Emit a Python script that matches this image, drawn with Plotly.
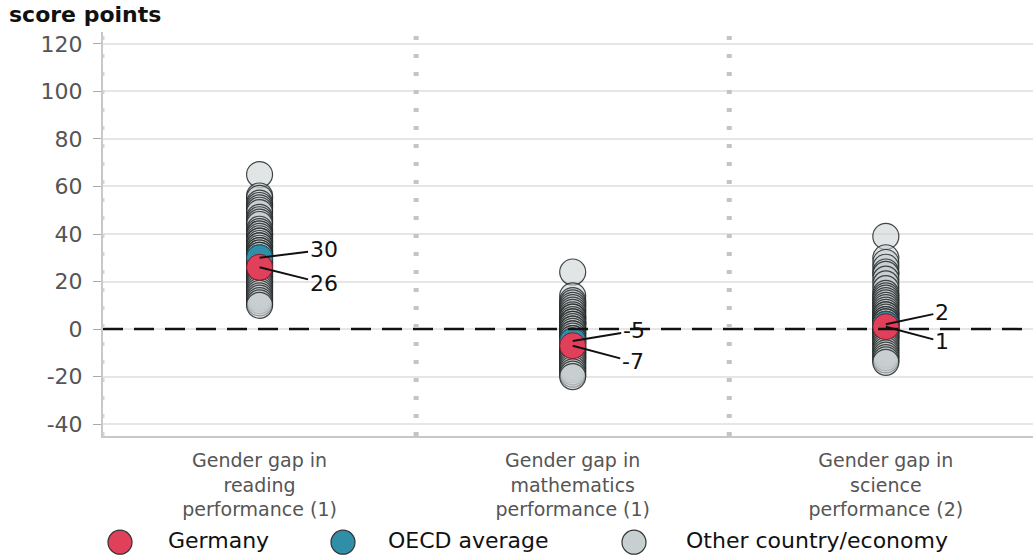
import plotly.graph_objects as go

# Gender gap (girls minus boys), score points
categories = ["Gender gap in<br>reading<br>performance (1)",
              "Gender gap in<br>mathematics<br>performance (1)",
              "Gender gap in<br>science<br>performance (2)"]

germany = [26, -7, 1]
oecd_average = [30, -5, 2]

other_reading = [65, 56, 55, 53, 52, 51, 50, 49, 47, 46, 45, 44, 42, 41, 40, 40,
                 39, 38, 37, 37, 36, 35, 35, 34, 33, 33, 32, 32, 31, 31, 30, 29,
                 29, 28, 28, 27, 27, 26, 25, 25, 24, 24, 23, 22, 22, 21, 20, 20,
                 19, 18, 17, 16, 15, 14, 13, 12, 11, 10]
other_math = [24, 14, 12, 11, 10, 9, 8, 7, 6, 5, 5, 4, 3, 3, 2, 2, 1, 0, 0, -1,
              -2, -2, -3, -4, -4, -5, -6, -6, -7, -8, -8, -9, -10, -10, -11, -12,
              -12, -13, -14, -15, -16, -17, -18, -19, -20]
other_science = [39, 30, 28, 26, 24, 23, 21, 19, 17, 15, 14, 13, 12, 11, 10, 9,
                 8, 7, 6, 6, 5, 4, 4, 3, 3, 2, 2, 1, 1, 0, 0, -1, -1, -2, -3, -3,
                 -4, -5, -6, -7, -8, -9, -10, -11, -12, -13, -14]

y_ticks = [-40, -20, 0, 20, 40, 60, 80, 100, 120]
legend_names = ["Germany", "OECD average", "Other country/economy"]

RED = "#e0405a"
TEAL = "#2f8fa8"
GREY_FILL = "rgba(200,207,209,0.55)"
FONT = "DejaVu Sans, Verdana, sans-serif"
MS = 26

others = [other_reading, other_math, other_science]
ox, oy = [], []
for i, vals in enumerate(others):
    ox += [i] * len(vals)
    oy += vals

fig = go.Figure()
fig.add_trace(go.Scatter(
    x=ox, y=oy, mode="markers", name=legend_names[2],
    marker=dict(size=MS, color=GREY_FILL,
                line=dict(color="rgba(35,40,40,0.85)", width=1.2)),
    hoverinfo="y"))
fig.add_trace(go.Scatter(
    x=[0, 1, 2], y=oecd_average, mode="markers", name=legend_names[1],
    marker=dict(size=MS, color=TEAL, line=dict(color="#1b4f5c", width=1))))
fig.add_trace(go.Scatter(
    x=[0, 1, 2], y=germany, mode="markers", name=legend_names[0],
    marker=dict(size=MS, color=RED, line=dict(color="#7a1f2c", width=1))))

# legend row drawn on its own hidden axes (x in pixels across the plot width)
legend_marker_x = [120, 343, 634]
legend_text_x = [168, 388, 686]
legend_colors = [RED, TEAL, "#c8cfd1"]
fig.add_trace(go.Scatter(
    x=legend_marker_x, y=[0, 0, 0], xaxis="x2", yaxis="y2", mode="markers",
    marker=dict(size=24, color=legend_colors,
                line=dict(color="#333", width=1.2)),
    hoverinfo="skip"))
fig.add_trace(go.Scatter(
    x=legend_text_x, y=[0, 0, 0], xaxis="x2", yaxis="y2", mode="text",
    text=legend_names, textposition="middle right",
    textfont=dict(size=22, color="#111", family=FONT), hoverinfo="skip"))

# value labels with leader lines
label_offsets_oecd = [(64, -8), (61, -10), (56, -12)]
label_offsets_de = [(64, 16), (60, 16), (56, 15)]
for i in range(3):
    for val, (ax, ay) in ((oecd_average[i], label_offsets_oecd[i]),
                          (germany[i], label_offsets_de[i])):
        fig.add_annotation(x=i, y=val, text=str(val), showarrow=True,
                           arrowhead=0, arrowwidth=2, arrowcolor="#111",
                           ax=ax, ay=ay, standoff=0,
                           font=dict(size=22, color="#111", family=FONT))

# zero line
fig.add_shape(type="line", xref="x domain", x0=0, x1=1, y0=0, y1=0,
              line=dict(color="#111", width=2.5, dash="20px,11px"))
# dotted separators between the panels
for xs, w, c in ((-0.5, 3, "#d6d6d6"), (0.5, 5, "#c4c4c4"), (1.5, 5, "#c4c4c4")):
    fig.add_shape(type="line", x0=xs, x1=xs, yref="y domain", y0=0, y1=1,
                  line=dict(color=c, width=w, dash="4px,14px"))

fig.add_annotation(text="<b>score points</b>", xref="paper", yref="paper",
                   x=-0.103, xanchor="left", y=1.0, yanchor="bottom", yshift=3,
                   showarrow=False,
                   font=dict(size=22, color="#111", family=FONT))

fig.update_layout(
    width=1033, height=558,
    margin=dict(l=103, r=0, t=32, b=0, autoexpand=False),
    plot_bgcolor="white", paper_bgcolor="white",
    font=dict(family=FONT, size=20, color="#555"),
    showlegend=False,
    xaxis=dict(range=[-0.5, 2.47], tickvals=[0, 1, 2], ticktext=categories,
               showgrid=False, zeroline=False, showline=True,
               linecolor="#c8c8c8", linewidth=2, ticks="", automargin=False,
               tickfont=dict(size=19, color="#555"), ticklabelstandoff=6),
    yaxis=dict(domain=[122 / 526, 1], range=[-45, 125], tickvals=y_ticks,
               ticktext=[str(v) for v in y_ticks],
               showgrid=True, gridcolor="#e6e6e6", gridwidth=1.5,
               zeroline=False, showline=True, linecolor="#c8c8c8", linewidth=2,
               ticks="outside", ticklen=8, tickcolor="#aaa", automargin=False,
               tickfont=dict(size=22, color="#555"), ticklabelstandoff=6),
    xaxis2=dict(domain=[0, 1], range=[103, 1033], visible=False,
                fixedrange=True),
    yaxis2=dict(domain=[0, 0.06], range=[-1, 1], visible=False,
                fixedrange=True, anchor="x2"),
)

fig.write_html("out.html")
